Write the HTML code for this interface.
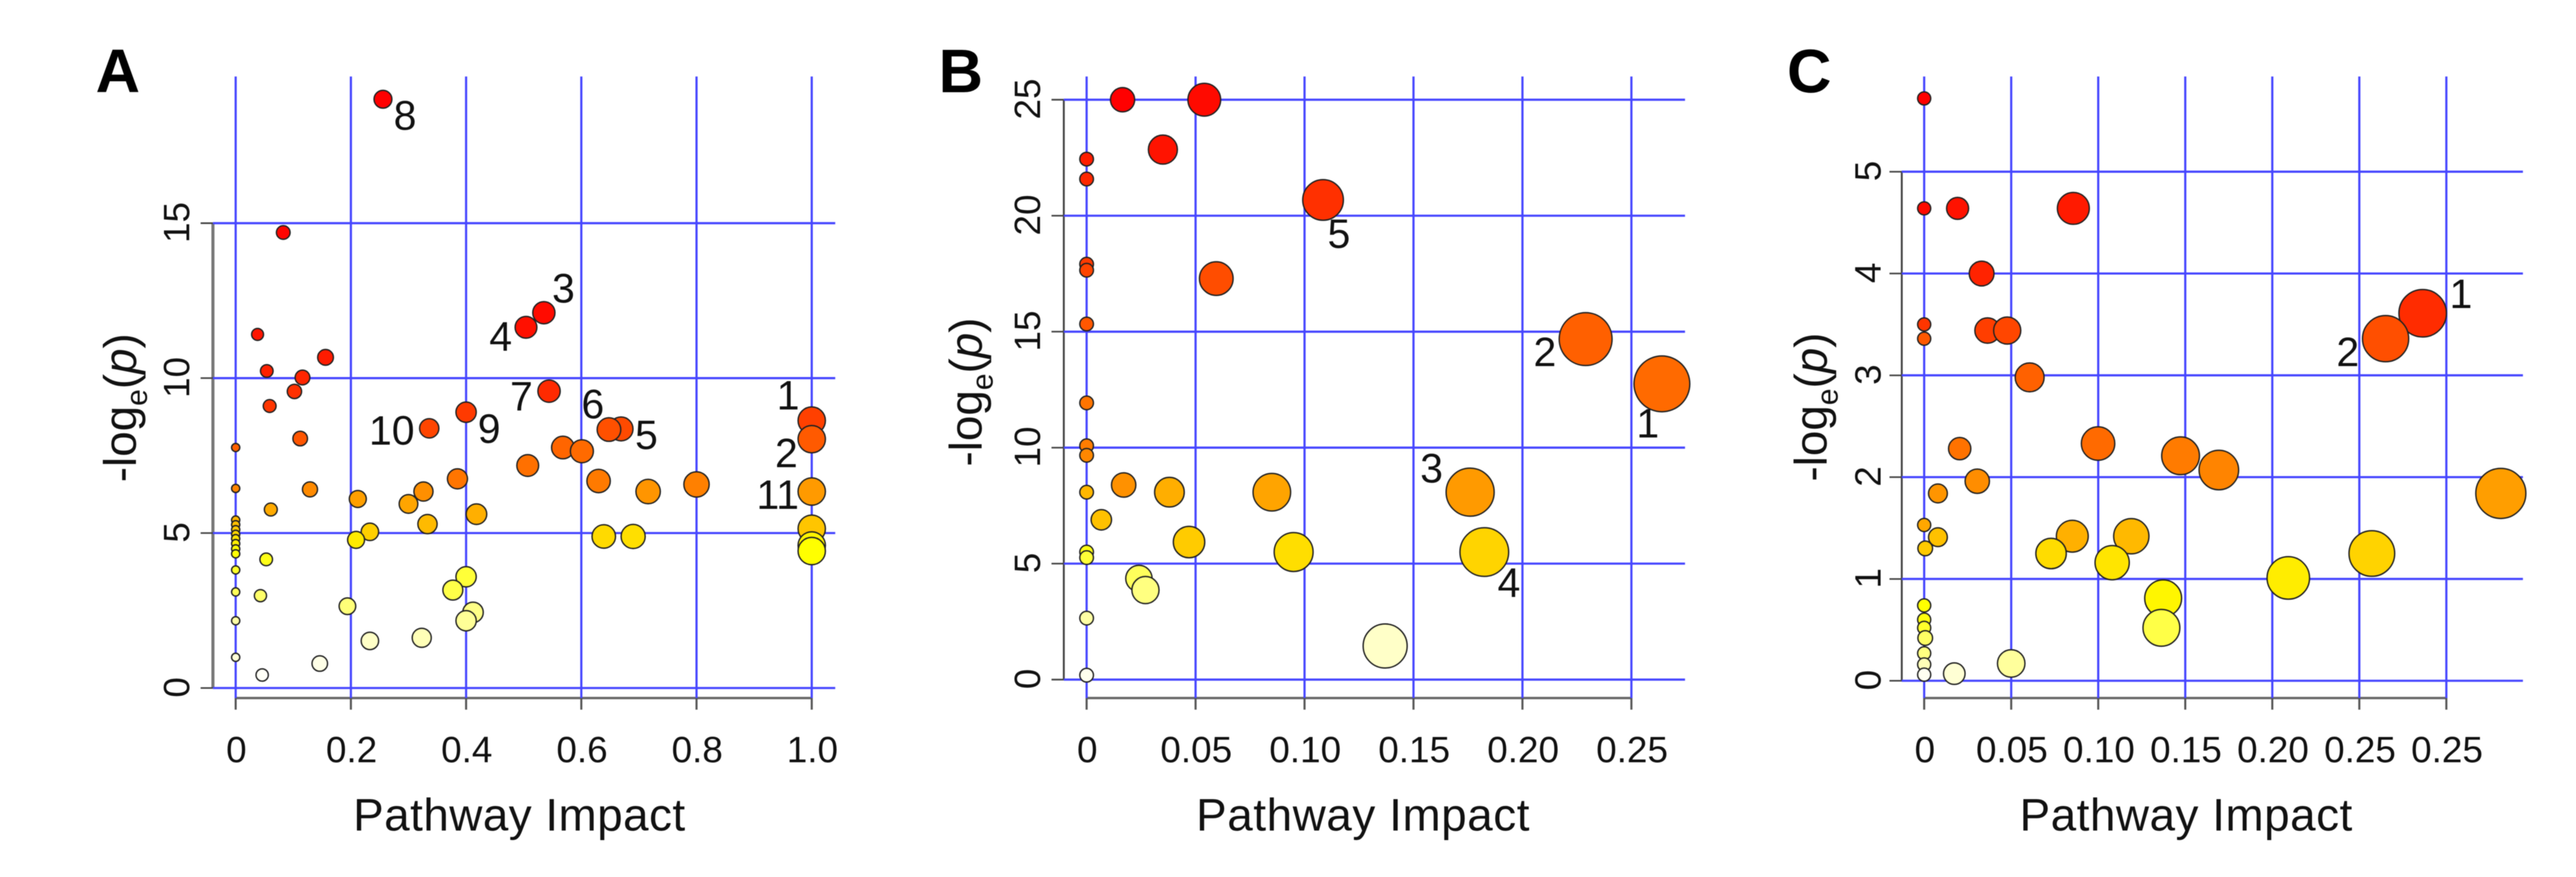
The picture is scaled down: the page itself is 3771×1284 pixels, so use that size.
<!DOCTYPE html>
<html lang="en">
<head>
<meta charset="utf-8">
<title>Pathway impact bubble charts</title>
<style>
html,body{margin:0;padding:0;background:#fff;}
svg{display:block;filter:blur(0.6px);font-family:"Liberation Sans",sans-serif;}
.panel-letter{font-size:90px;font-weight:bold;fill:#000;}
.x-title,.y-title{font-size:67px;fill:#111;}
.x-title{text-anchor:middle;}
.tick-label{font-size:54px;fill:#111;text-anchor:middle;}
.point-label{font-size:60px;fill:#111;text-anchor:middle;}
</style>
</head>
<body>
<svg id="figure" xmlns="http://www.w3.org/2000/svg" width="3771" height="1284" viewBox="0 0 3771 1284">
  <rect x="0" y="0" width="3771" height="1284" fill="#fff"/>

  <g id="panel-a"></g>
  <g id="panel-b"></g>
  <g id="panel-c"></g>

  <text class="panel-letter" x="140" y="135">A</text>
  <text class="panel-letter" x="1374" y="135">B</text>
  <text class="panel-letter" x="2616" y="135">C</text>

  <text class="x-title" x="760" y="1216" textLength="486">Pathway Impact</text>
  <text class="x-title" x="1995" y="1216" textLength="488">Pathway Impact</text>
  <text class="x-title" x="3200" y="1216" textLength="487">Pathway Impact</text>

  <text class="y-title" transform="translate(199 706) rotate(-90)">-log<tspan font-size="44" dy="16">e</tspan><tspan dy="-16">(</tspan><tspan font-style="italic">p</tspan>)</text>
  <text class="y-title" transform="translate(1437 683) rotate(-90)">-log<tspan font-size="44" dy="16">e</tspan><tspan dy="-16">(</tspan><tspan font-style="italic">p</tspan>)</text>
  <text class="y-title" transform="translate(2674 705) rotate(-90)">-log<tspan font-size="44" dy="16">e</tspan><tspan dy="-16">(</tspan><tspan font-style="italic">p</tspan>)</text>
</svg>

<script>
// ---- Panel A data ----
const impactA = [0.2557,0.0826,0.535,0.504,0.038,0.156,0.054,0.116,0.102,0.059,0.544,0.400,0.336,0.648,0.669,1.0,1.0,0.112,0,0.568,0.601,0.507,0.385,0,0.630,0.800,0.129,0.326,0.716,1.0,0.212,0.300,0.061,0.418,0,0.333,0,0,1.0,0.233,0,0,0.639,0.690,0.209,0,1.0,0,1.0,0,0.053,0,0.400,0.377,0,0.043,0.194,0.412,0.400,0,0.323,0.233,0,0.146,0.046];
const logPA = [19.0,14.7,12.11,11.64,11.41,10.67,10.23,10.02,9.57,9.10,9.58,8.90,8.38,8.34,8.36,8.63,8.03,8.05,7.76,7.76,7.64,7.18,6.75,6.44,6.68,6.57,6.41,6.34,6.34,6.34,6.10,5.94,5.76,5.61,5.42,5.29,5.27,5.11,5.14,5.04,4.96,4.82,4.89,4.89,4.78,4.66,4.60,4.49,4.42,4.33,4.15,3.81,3.59,3.16,3.10,2.98,2.64,2.44,2.17,2.17,1.62,1.52,0.99,0.79,0.42];
const xTicksA = [0,0.2,0.4,0.6,0.8,1.0];
const xTickLabelsA = ["0","0.2","0.4","0.6","0.8","1.0"];
const yTicksA = [0,5,10,15];
const noteTextA = ["8","3","4","7","6","5","9","10","1","2","11"];
const noteXA = [0.294,0.569,0.460,0.496,0.620,0.713,0.440,0.271,0.959,0.956,0.941];
const noteYA = [18.01,12.44,10.88,8.95,8.70,7.71,7.91,7.85,8.99,7.13,5.78];

// ---- Panel B data ----
const impactB = [0.0165,0.054,0.035,0,0,0.1085,0,0,0.0595,0,0.229,0.264,0,0,0,0.017,0.176,0.085,0.038,0,0.00675,0.047,0.1825,0.095,0,0,0.024,0.027,0,0.137,0];
const logPB = [25.0,25.0,22.85,22.44,21.58,20.68,17.91,17.65,17.29,15.33,14.68,12.75,11.93,10.08,9.67,8.39,8.08,8.08,8.08,8.08,6.89,5.93,5.50,5.50,5.50,5.26,4.36,3.86,2.65,1.45,0.19];
const xTicksB = [0,0.05,0.10,0.15,0.20,0.25];
const xTickLabelsB = ["0","0.05","0.10","0.15","0.20","0.25"];
const yTicksB = [0,5,10,15,20,25];
const noteTextB = ["5","2","1","3","4"];
const noteXB = [0.1158,0.2103,0.2575,0.1583,0.1938];
const noteYB = [18.61,13.52,10.44,8.49,3.57];

// ---- Panel C data ----
const impactC = [0,0,0.0192,0.0857,0.033,0.2864,0,0.0364,0.0477,0.2651,0,0.0606,0.0999,0.0204,0.1473,0.1693,0.0305,0.0079,0.3313,0,0.0079,0.0851,0.119,0.0006,0.2572,0.0729,0.108,0.2092,0.1373,0,0,0,0.1363,0.0006,0,0,0.05,0.0173,0];
const logPC = [5.72,4.64,4.64,4.64,4.00,3.61,3.50,3.44,3.44,3.36,3.36,2.98,2.33,2.28,2.21,2.07,1.96,1.84,1.84,1.53,1.41,1.42,1.42,1.30,1.25,1.25,1.16,1.01,0.81,0.74,0.60,0.52,0.52,0.42,0.27,0.16,0.17,0.07,0.06];
const xTicksC = [0,0.05,0.10,0.15,0.20,0.25,0.30];
const xTickLabelsC = ["0","0.05","0.10","0.15","0.20","0.25","0.25"];
const yTicksC = [0,1,2,3,4,5];
const noteTextC = ["1","2"];
const noteXC = [0.3084,0.2434];
const noteYC = [3.66,3.09];

const SVG_NS = "http://www.w3.org/2000/svg";

function make(parent, tag, props, text) {
  const el = document.createElementNS(SVG_NS, tag);
  for (const key in props) el.setAttribute(key, props[key]);
  if (text !== undefined) el.textContent = text;
  parent.appendChild(el);
  return el;
}

// R heat.colors(n): red to yellow for three quarters, yellow to white for the rest
function hsvToCss(h, s, v) {
  const f = (n) => {
    const k = (n + h * 6) % 6;
    return v - v * s * Math.max(0, Math.min(k, 4 - k, 1));
  };
  return "rgb(" + Math.round(f(5) * 255) + "," + Math.round(f(3) * 255) + "," + Math.round(f(1) * 255) + ")";
}
function heatColor(rank, n, hueEnd) {
  const j = Math.floor(n / 4);
  const i = n - j;
  if (rank < i) return hsvToCss(hueEnd * (i > 1 ? rank / (i - 1) : 0) / 6, 1, 1);
  const t = j > 1 ? (rank - i) / (j - 1) : 0;
  const s = (1 - 1 / (2 * j)) + t * ((1 / (2 * j)) - (1 - 1 / (2 * j)));
  return hsvToCss(1 / 6, s, 1);
}

function drawPanel(cfg) {
  const g = document.getElementById(cfg.id);
  const px = (v) => cfg.x0 + v * cfg.xUnit;
  const py = (v) => cfg.y0 - v * cfg.yUnit;
  const radius = (v) => cfg.r0 + cfg.rK * Math.sqrt(v);
  const BLUE = "#4646ff";
  const yMax = cfg.yTicks[cfg.yTicks.length - 1];
  const xMax = cfg.xTicks[cfg.xTicks.length - 1];

  const yAxis = make(g, "line", {x1: cfg.axisX, x2: cfg.axisX, y1: py(yMax), y2: py(0), stroke: cfg.axisColor, "stroke-width": cfg.axisW});
  
  
  const xAxis = make(g, "line", {x1: px(0), x2: px(xMax), y1: cfg.axisY, y2: cfg.axisY, stroke: "#666", "stroke-width": 3.4});
  
  

  cfg.yTicks.forEach((v) => {
    const tick = make(g, "line", {x1: cfg.axisX - 18, x2: cfg.axisX, y1: py(v), y2: py(v), stroke: "#444", "stroke-width": 2.4});
    
    
    const grid = make(g, "line", {x1: cfg.axisX, x2: cfg.gridRight, y1: py(v), y2: py(v), stroke: BLUE, "stroke-width": 3.2});
    
    
    const label = make(g, "text", {class: "tick-label", transform: "translate(" + cfg.yLabelX + " " + (py(v) - 1) + ") rotate(-90)"}, String(v));
    
    
  });

  cfg.xTicks.forEach((v, i) => {
    const tick = make(g, "line", {x1: px(v), x2: px(v), y1: cfg.axisY, y2: cfg.axisY + 17, stroke: "#555", "stroke-width": 3});
    
    
    const grid = make(g, "line", {x1: px(v), x2: px(v), y1: 112, y2: cfg.axisY, stroke: BLUE, "stroke-width": 3.2});
    
    
    const label = make(g, "text", {class: "tick-label", x: px(v) + 1, y: 1116}, cfg.xLabels[i]);
    
    
  });

  const order = cfg.impact.map((_, i) => i).sort((a, b) => (cfg.logP[b] - cfg.logP[a]) || (a - b));
  order.forEach((idx, rank) => {
    const dot = make(g, "circle", {
      cx: px(cfg.impact[idx]),
      cy: py(cfg.logP[idx]),
      r: radius(cfg.impact[idx]),
      fill: heatColor(rank, order.length, cfg.hueEnd),
      stroke: "#222",
      "stroke-width": 2
    });
    
    
  });

  cfg.noteText.forEach((t, i) => {
    const note = make(g, "text", {class: "point-label", x: px(cfg.noteX[i]), y: py(cfg.noteY[i])}, t);
    
    
  });
}

drawPanel({id: "panel-a", x0: 345, xUnit: 843.3, y0: 1007.3, yUnit: 45.37, axisX: 311.7, axisY: 1022, axisW: 4.5, axisColor: "#777", gridRight: 1222.7, yLabelX: 277, r0: 6, rK: 14, hueEnd: 1,
  impact: impactA, logP: logPA, xTicks: xTicksA, xLabels: xTickLabelsA, yTicks: yTicksA, noteText: noteTextA, noteX: noteXA, noteY: noteYA});
drawPanel({id: "panel-b", x0: 1590.7, xUnit: 3190, y0: 995, yUnit: 33.96, axisX: 1557.3, axisY: 1022, axisW: 2.8, axisColor: "#444", gridRight: 2466.7, yLabelX: 1522.7, r0: 10, rK: 60, hueEnd: 0.87,
  impact: impactB, logP: logPB, xTicks: xTicksB, xLabels: xTickLabelsB, yTicks: yTicksB, noteText: noteTextB, noteX: noteXB, noteY: noteYB});
drawPanel({id: "panel-c", x0: 2816.8, xUnit: 2548, y0: 996.7, yUnit: 149.06, axisX: 2784, axisY: 1022, axisW: 2.8, axisColor: "#444", gridRight: 3693.3, yLabelX: 2753, r0: 9.6, rK: 47, hueEnd: 1,
  impact: impactC, logP: logPC, xTicks: xTicksC, xLabels: xTickLabelsC, yTicks: yTicksC, noteText: noteTextC, noteX: noteXC, noteY: noteYC});
</script>
</body>
</html>
